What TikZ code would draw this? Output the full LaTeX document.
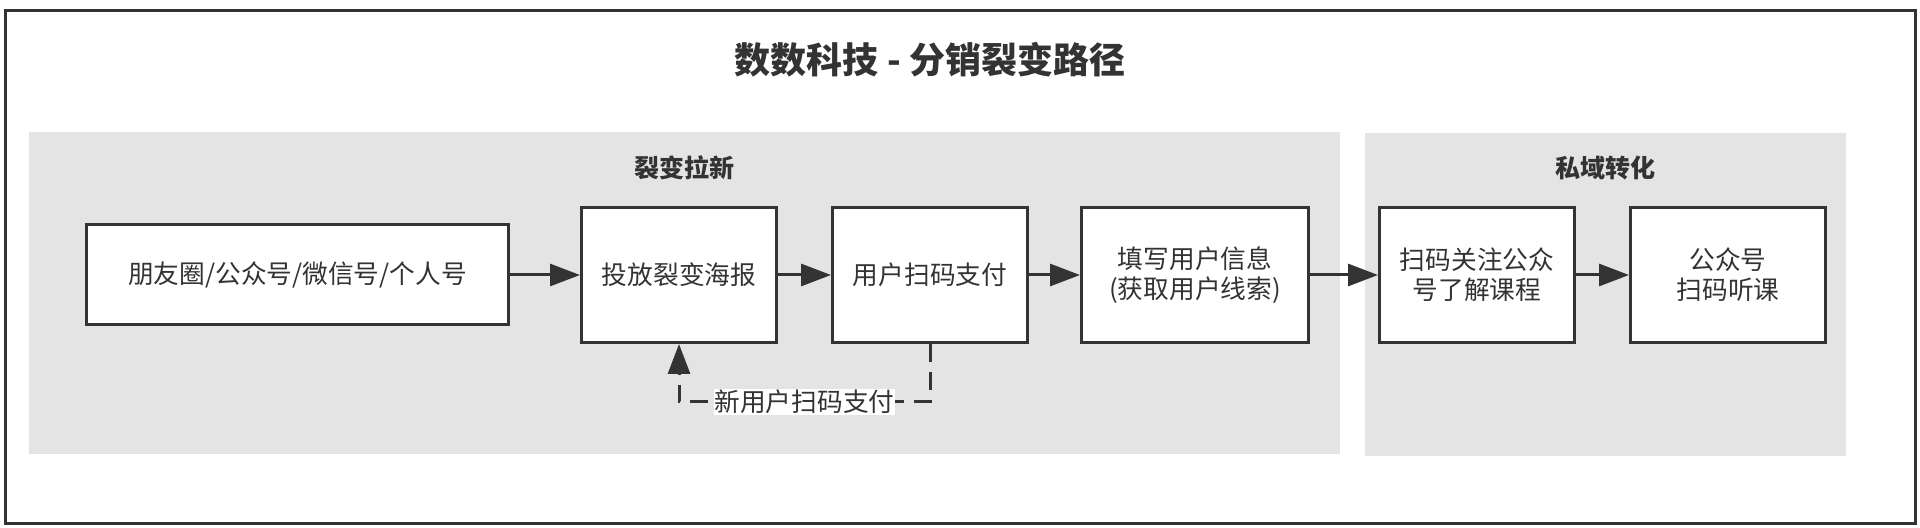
\documentclass[tikz,border=0pt]{standalone}
\usepackage{fontspec}
\setmainfont{Noto Sans CJK SC}
\usetikzlibrary{positioning,arrows.meta}
\definecolor{ink}{HTML}{333333}
\definecolor{panel}{HTML}{E4E4E4}
\tikzset{
  box/.style={draw=ink,line width=1.5pt,fill=white,text=ink,inner sep=0pt,
    minimum width=97.5pt,minimum height=67.5pt,align=center,
    font=\fontsize{12.85pt}{15pt}\selectfont},
  flow/.style={draw=ink,line width=1.5pt,-{Triangle[length=15pt,width=11pt]}},
  back/.style={flow,dash pattern=on 9pt off 5pt},
  lbl/.style={fill=white,text=ink,inner sep=0.5pt,font=\fontsize{12.85pt}{15pt}\selectfont},
  head/.style={text=ink,font=\bfseries\fontsize{12.5pt}{15pt}\selectfont}
}
\begin{document}
\begin{tikzpicture}[x=0.5pt,y=-0.5pt,node distance=26.5pt]
   \useasboundingbox (0,0) rectangle (1920,528);
   \draw[ink,line width=1.5pt] (5,11) rectangle (1915,523);
   \node (0) [text=ink,font=\bfseries\fontsize{18pt}{22pt}\selectfont] at (930,60) {数数科技 - 分销裂变路径};
   \fill[panel] (29,132) rectangle (1340,454);
   \fill[panel] (1365,133) rectangle (1846,456);
   \node (7) [head] at (684.5,168) {裂变拉新};
   \node (8) [head] at (1605.5,168) {私域转化};
   \node (1) [box,minimum width=211pt,minimum height=50pt] at (297.5,275) {朋友圈/公众号/微信号/个人号};
   \node (2) [box,right=35pt of 1] {投放裂变海报};
   \node (3) [box,right=of 2] {用户扫码支付};
   \node (4) [box,minimum width=113.5pt,right=25.5pt of 3] {填写用户信息\\(获取用户线索)};
   \node (5) [box,right=34pt of 4] {扫码关注公众\\号了解课程};
   \node (6) [box,right=of 5] {公众号\\扫码听课};
   \draw[flow] (1) -- (2);
   \draw[flow] (2) -- (3);
   \draw[flow] (3) -- (4);
   \draw[flow] (4) -- (5);
   \draw[flow] (5) -- (6);
   \draw[back] (3.south) -- ++(0,58) -| node[lbl,pos=0.25] {新用户扫码支付} (2.south);
  \end{tikzpicture}
\end{document}
